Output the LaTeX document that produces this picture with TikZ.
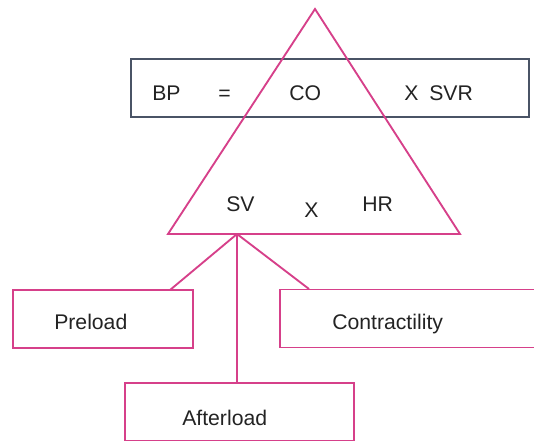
\documentclass[tikz,border=0pt]{standalone}
\usepackage{fontspec}
\setmainfont{Liberation Sans}
\definecolor{bpPink}{RGB}{214,64,138}
\definecolor{bpGray}{RGB}{74,84,102}
\definecolor{bpInk}{RGB}{35,35,35}
\newcommand*{\pxW}{534}
\newcommand*{\pxH}{441}

\begin{document}
\begin{tikzpicture}[x=0.75pt, y=-0.75pt,
    pinkline/.style={draw=bpPink, line width=1.4pt, line join=miter},
    pinkbox/.style={pinkline, rectangle, inner sep=0pt, minimum height=43.5pt},
    graybox/.style={draw=bpGray, line width=1.4pt, rectangle, inner sep=0pt, minimum height=43.5pt},
    lbl/.style={anchor=base west, inner sep=0pt, text=bpInk, font=\fontsize{15.9}{19}\selectfont}]
    \useasboundingbox (0,0) rectangle (\pxW,\pxH);

    % equation box
    \node [graybox, minimum width=298.5pt] (eqbox) at (330,88) {};
    \node [lbl] (bp)  at (152,101) {BP};
    \node [lbl] (eq)  at (218,101) {=};
    \node [lbl] (co)  at (289,101) {CO};
    \node [lbl] (x1)  at (404,101) {X};
    \node [lbl] (svr) at (429,101) {SVR};

    % triangle
    \coordinate (apex) at (315,9);
    \coordinate (baseL) at (168,234);
    \coordinate (baseR) at (460,234);
    \draw [pinkline] (apex) -- (baseL) -- (baseR) -- cycle;
    \node [lbl] (sv) at (226,212) {SV};
    \node [lbl] (x2) at (304,218) {X};
    \node [lbl] (hr) at (362,212) {HR};

    % determinants of SV
    \node [pinkbox, minimum width=135pt] (pre) at (103,319) {};
    \node [lbl] (preTxt) at (54,329) {Preload};
    \node [pinkbox, minimum width=210pt] (con) at (420,318.5) {};
    \node [lbl] (conTxt) at (332,329) {Contractility};
    \node [pinkbox, minimum width=171.75pt] (aft) at (239.5,412) {};
    \node [lbl] (aftTxt) at (182,425) {Afterload};

    \coordinate (svFoot) at (237,234);
    \coordinate (preIn) at (170,290);
    \coordinate (conIn) at (309,289);
    \draw [pinkline] (svFoot) -- (preIn);
    \draw [pinkline] (svFoot) -- (conIn);
    \draw [pinkline] (svFoot) -- (svFoot |- aft.north);
\end{tikzpicture}
\end{document}
